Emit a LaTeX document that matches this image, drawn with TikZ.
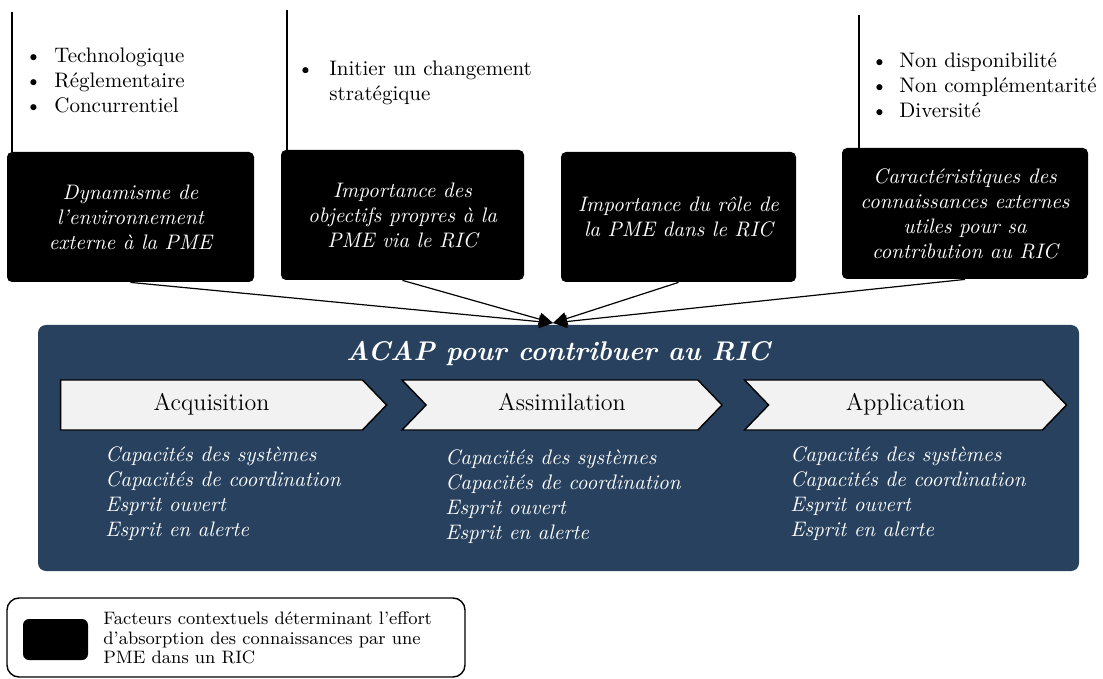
\documentclass[tikz,border=0pt]{standalone}
\usepackage{fontspec}
\usetikzlibrary{shapes.symbols,arrows.meta,positioning}

\definecolor{acapblue}{HTML}{27415F}
\definecolor{chevgray}{HTML}{F2F2F2}
\newcommand\wideit{\itshape\addfontfeatures{LetterSpace=5}}

\tikzset{
  facteur/.style={fill=black, rounded corners=2.5pt, text=white, align=center,
    minimum height=65pt, inner sep=2pt, font=\fontsize{10.5}{12.5}\selectfont\wideit},
  puces/.style={anchor=north west, inner sep=0pt, align=left,
    font=\fontsize{10.5}{12.5}\selectfont},
  etape/.style={signal, signal to=east, signal pointer angle=92, draw=black,
    fill=chevgray, line width=0.7pt, minimum height=25pt, minimum width=161pt,
    inner sep=0pt, text height=8pt, text depth=2.5pt, font=\fontsize{12}{14}\selectfont},
  capa/.style={anchor=north west, inner sep=0pt, align=left, text=white,
    font=\fontsize{10.5}{12.5}\selectfont\wideit},
  fleche/.style={line width=0.6pt, -{Triangle[length=7pt,width=6.5pt]}}
}

\begin{document}
\begin{tikzpicture}[x=0.5pt,y=-0.5pt]
\useasboundingbox (0,0) rectangle (1103,679);

% facteurs contextuels
\node[facteur, minimum width=123.5pt] (env) at (130.5,217) {Dynamisme de\\l'environnement\\externe à la PME};
\node[facteur, minimum width=121.5pt] (obj) at (402.5,215) {Importance des\\objectifs propres à la\\PME via le RIC};
\node[facteur, minimum width=117.5pt] (role) at (678.5,217) {Importance du rôle de\\la PME dans le RIC};
\node[facteur, minimum width=123pt, minimum height=65.5pt] (carac) at (965,213.5) {Caractéristiques des\\connaissances externes\\utiles pour sa\\contribution au RIC};

% listes au-dessus
\coordinate (envtop) at (12,12);
\coordinate (objtop) at (287,10);
\coordinate (caractop) at (859,15);
\draw[line width=0.6pt] (envtop) -- (envtop |- env.north);
\draw[line width=0.6pt] (objtop) -- (objtop |- obj.north);
\draw[line width=0.6pt] (caractop) -- (caractop |- carac.north);

\node[puces] (envlist) at (25,45) {\begin{tabular}{@{}p{14.5pt}@{}l@{}}
\textbullet & Technologique\\ \textbullet & Réglementaire\\ \textbullet & Concurrentiel\end{tabular}};
\node[puces] (objlist) at (297,58) {\begin{tabular}{@{}p{16pt}@{}l@{}}
\textbullet & Initier un changement\\ & stratégique\end{tabular}};
\node[puces] (caraclist) at (871,50) {\begin{tabular}{@{}p{14pt}@{}l@{}}
\textbullet & Non disponibilité\\ \textbullet & Non complémentarité\\ \textbullet & Diversité\end{tabular}};

% ACAP
\node[fill=acapblue, rounded corners=4pt, minimum width=520.5pt, minimum height=123pt, inner sep=0pt] (acap) at (558.5,448) {};
\node[text=white, font=\fontsize{13.5}{16}\selectfont\bfseries\wideit] (titre) at (558,354) {ACAP pour contribuer au RIC};

\node[etape, minimum width=163pt] (acq) at (211.5,405) {Acquisition};
\node[etape, signal from=west, minimum width=160pt] (assim) at (562,405) {Assimilation};
\node[etape, signal from=west] (appl) at (905.5,405) {Application};

\foreach \n/\x/\y in {acq/105/446, assim/445/449, appl/790/446}
  \node[capa] (\n capa) at (\x,\y) {Capacités des systèmes\\Capacités de coordination\\Esprit ouvert\\Esprit en alerte};

% fleches vers l'ACAP
\coordinate (hub) at (553,323);
\draw[fleche] (env.south) -- (hub);
\draw[fleche] (obj.south) -- (hub);
\draw[fleche] (role.south) -- (hub);
\draw[fleche] (carac.south) -- (hub);

% legende
\node[draw, line width=0.7pt, rounded corners=6pt, minimum width=229pt, minimum height=39.5pt] (legende) at (236,637.5) {};
\node[fill=black, rounded corners=3pt, minimum width=32.5pt, minimum height=20.5pt] (legcle) at (55.5,639.5) {};
\node[anchor=west, align=left, inner sep=0pt, font=\fontsize{9}{9.8}\selectfont] (legtexte) at (103,638) {Facteurs contextuels déterminant l'effort\\d'absorption des connaissances par une\\PME dans un RIC};
\end{tikzpicture}
\end{document}
